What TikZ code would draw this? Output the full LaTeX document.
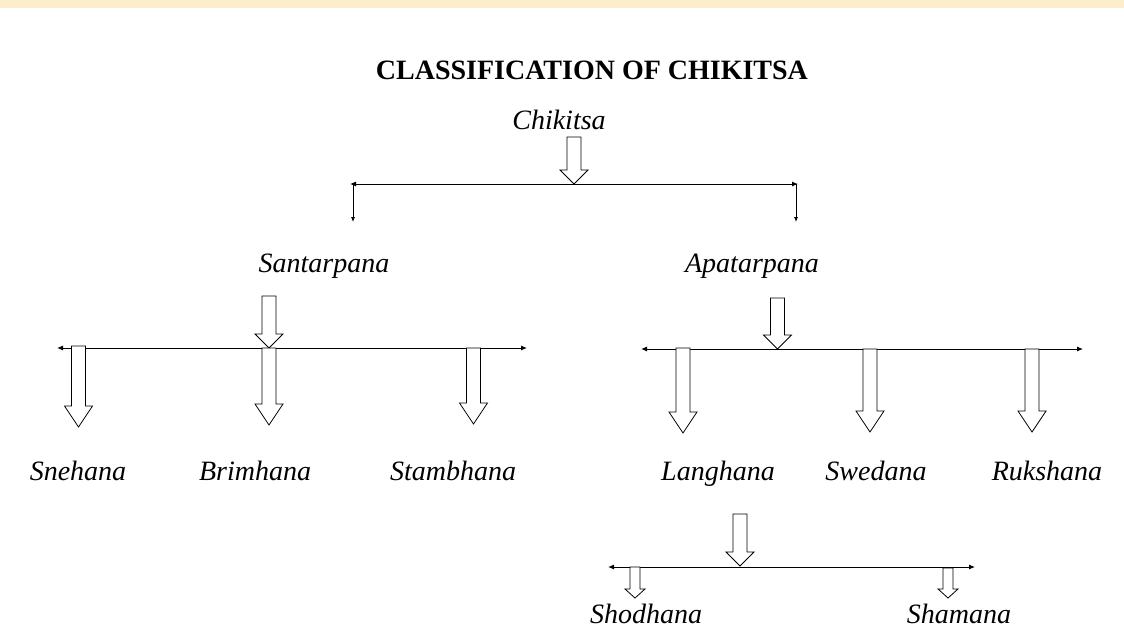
\documentclass[tikz,border=0pt]{standalone}
\usepackage{fontspec}
\setmainfont{Liberation Serif}
\usetikzlibrary{arrows.meta,calc}
\definecolor{wmark}{RGB}{252,238,203}
\tikzset{
  ttl/.style={anchor=base,inner sep=0pt,font=\fontsize{28}{34}\selectfont\bfseries},
  lbl/.style={anchor=base,inner sep=0pt,font=\fontsize{28}{34}\selectfont\itshape},
  bar/.style={line width=1pt,{Latex[length=6pt,width=5pt]}-{Latex[length=6pt,width=5pt]}},
  tinyarrow/.style={line width=0.8pt,-{Latex[length=5pt,width=4pt]}},
  hollow/.style n args={3}{line width=0.8pt,fill=white,
    to path={let \p1=(\tikztostart), \p2=(\tikztotarget) in
      (\x1-#1,\y1) -- (\x1-#1,\y2+#3) -- (\x1-#2,\y2+#3) -- (\x2,\y2)
      -- (\x1+#2,\y2+#3) -- (\x1+#1,\y2+#3) -- (\x1+#1,\y1) -- cycle}},
  toparrow/.style={hollow={7pt}{14pt}{14pt}},
  downarrow/.style={hollow={7pt}{14pt}{21pt}},
  smallarrow/.style={hollow={5pt}{10pt}{9pt}}
}
\begin{document}
\begin{tikzpicture}[x=1pt,y=-1pt]
\useasboundingbox (0,0) rectangle (1124,633);
\fill[wmark] (0,0) rectangle (1124,8);

\node[ttl] (title) at (592,79) {CLASSIFICATION OF CHIKITSA};
\node[lbl] (chik) at (559,129) {Chikitsa};
\node[lbl] (sant) at (324,272) {Santarpana};
\node[lbl] (apat) at (752,272) {Apatarpana};
\node[lbl] (sneh) at (78,480) {Snehana};
\node[lbl] (brim) at (255,480) {Brimhana};
\node[lbl] (stam) at (453,480) {Stambhana};
\node[lbl] (lang) at (718,480) {Langhana};
\node[lbl] (swed) at (876,480) {Swedana};
\node[lbl] (ruks) at (1047,480) {Rukshana};
\node[lbl] (shod) at (646,623) {Shodhana};
\node[lbl] (sham) at (959,623) {Shamana};

\coordinate (chiktop) at (574,137);
\coordinate (chikbar) at (574,184);
\coordinate (barAl) at (350,184);
\coordinate (barAr) at (798,184);
\coordinate (santtop) at (353,184);
\coordinate (santend) at (353,222);
\coordinate (apattop) at (796,184);
\coordinate (apatend) at (796,222);

\coordinate (santin) at (269,296);
\coordinate (santbar) at (269,348);
\coordinate (barBl) at (57,348);
\coordinate (barBr) at (527,348);
\coordinate (snehtop) at (78.5,346);
\coordinate (snehend) at (78.5,427);
\coordinate (brimtop) at (269,348);
\coordinate (brimend) at (269,425);
\coordinate (stamtop) at (473.5,348);
\coordinate (stamend) at (473.5,424);

\coordinate (apatin) at (777.5,298);
\coordinate (apatbar) at (777.5,349);
\coordinate (barCl) at (641,349);
\coordinate (barCr) at (1083,349);
\coordinate (langtop) at (683,348);
\coordinate (langend) at (683,433);
\coordinate (swedtop) at (870,349);
\coordinate (swedend) at (870,432);
\coordinate (rukstop) at (1032,349);
\coordinate (ruksend) at (1032,432);

\coordinate (langin) at (740,514);
\coordinate (langbar) at (740,566);
\coordinate (barDl) at (608,567);
\coordinate (barDr) at (975,567);
\coordinate (shodtop) at (635,567);
\coordinate (shodend) at (635,598);
\coordinate (shamtop) at (948,568);
\coordinate (shamend) at (948,598);

\draw[bar] (barAl) -- (barAr);
\draw[bar] (barBl) -- (barBr);
\draw[bar] (barCl) -- (barCr);
\draw[bar] (barDl) -- (barDr);

\draw[tinyarrow] (santtop) -- (santend);
\draw[tinyarrow] (apattop) -- (apatend);

\draw[toparrow] (chiktop) to (chikbar);
\draw[toparrow] (santin) to (santbar);
\draw[toparrow] (apatin) to (apatbar);
\draw[toparrow] (langin) to (langbar);

\draw[downarrow] (snehtop) to (snehend);
\draw[downarrow] (brimtop) to (brimend);
\draw[downarrow] (stamtop) to (stamend);
\draw[downarrow] (langtop) to (langend);
\draw[downarrow] (swedtop) to (swedend);
\draw[downarrow] (rukstop) to (ruksend);

\draw[smallarrow] (shodtop) to (shodend);
\draw[smallarrow] (shamtop) to (shamend);
\end{tikzpicture}
\end{document}
